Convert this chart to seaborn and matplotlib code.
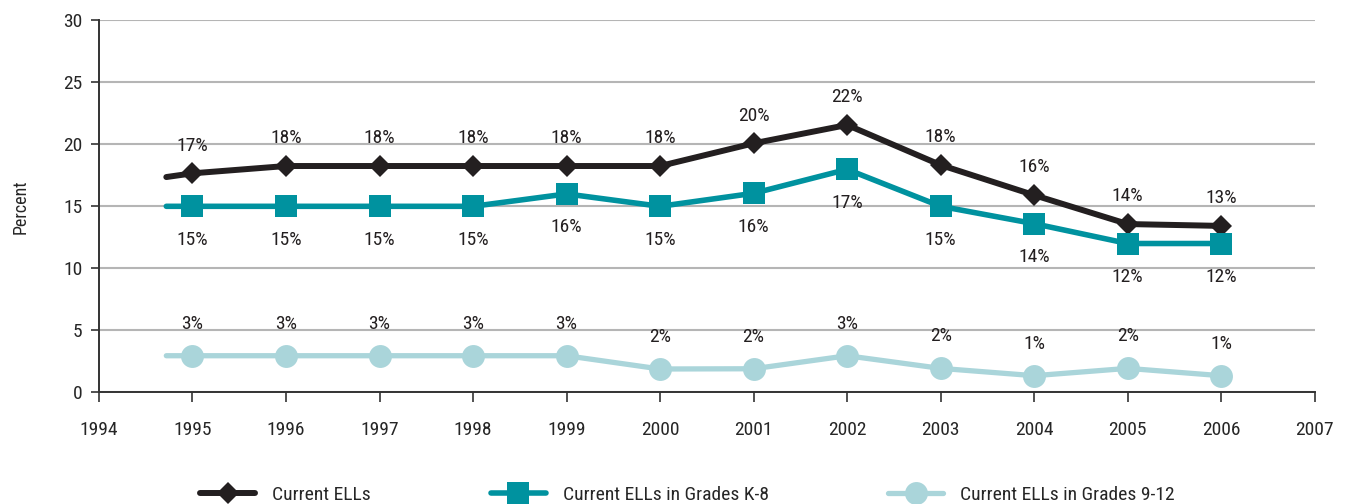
import matplotlib
matplotlib.use("Agg")
import matplotlib.pyplot as plt
import seaborn as sns
import pandas as pd

# ---- data ----
lead_year = 1994.72          # lines start slightly before the first marker
years = [1995, 1996, 1997, 1998, 1999, 2000, 2001, 2002, 2003, 2004, 2005, 2006]
ells_lead = 17.36
ells = [17.66, 18.25, 18.25, 18.25, 18.25, 18.25, 20.08, 21.56, 18.33, 15.9, 13.57, 13.42]
ells_lbl = [17, 18, 18, 18, 18, 18, 20, 22, 18, 16, 14, 13]
k8_lead = 15.0
k8 = [15.0, 15.0, 15.0, 15.0, 16.0, 15.0, 16.05, 17.98, 15.0, 13.6, 12.0, 12.0]
k8_lbl = [15, 15, 15, 15, 16, 15, 16, 17, 15, 14, 12, 12]
g912_lead = 2.95
g912 = [2.95, 2.95, 2.95, 2.95, 2.95, 1.88, 1.9, 2.95, 1.93, 1.34, 1.93, 1.34]
g912_lbl = [3, 3, 3, 3, 3, 2, 2, 3, 2, 1, 2, 1]
series_names = ["Current ELLs", "Current ELLs in Grades K-8", "Current ELLs in Grades 9-12"]
x_ticks = list(range(1994, 2008))
y_ticks = [0, 5, 10, 15, 20, 25, 30]

sns.set_style("white")
plt.rcParams["font.family"] = ["Liberation Sans Narrow", "DejaVu Sans Condensed",
                               "Roboto Condensed", "Liberation Sans", "DejaVu Sans"]

fig = plt.figure(figsize=(13.54, 5.04), dpi=100)
ax = fig.add_axes([0.0731, 0.2216, 0.971 - 0.0731, 0.9597 - 0.2216])

colors = ["#231f20", "#00929f", "#aad5da"]
markers = ["D", "s", "o"]
msizes = [11, 15.5, 16.5]
lws = [4.3, 4.0, 3.8]
offsets = [20, -24, 23]  # label offsets in points

all_series = [(ells_lead, ells, ells_lbl), (k8_lead, k8, k8_lbl), (g912_lead, g912, g912_lbl)]
for i, (lead, vals, lbls) in enumerate(all_series):
    df = pd.DataFrame({"year": [lead_year] + years, "value": [lead] + vals})
    sns.lineplot(data=df, x="year", y="value", ax=ax, color=colors[i], lw=lws[i],
                 marker=markers[i], markersize=msizes[i], markevery=list(range(1, len(df))),
                 markeredgecolor=colors[i], markeredgewidth=0, label=series_names[i],
                 solid_capstyle="round", zorder=3)
    for x, v, l in zip(years, vals, lbls):
        ax.annotate(f"{l}%", (x, v), xytext=(0, offsets[i]), textcoords="offset points",
                    ha="center", va="center", fontsize=14, color="#231f20")

ax.set_xlim(1994, 2007)
ax.set_ylim(0, 30)
ax.set_xticks(x_ticks)
ax.set_xticklabels([str(t) for t in x_ticks])
ax.set_yticks(y_ticks)
ax.set_xlabel("")
ax.set_ylabel("Percent", fontsize=13, labelpad=24)
ax.yaxis.grid(True, color="#b5b5b5", lw=1.5)
ax.set_axisbelow(True)
for s in ["top", "right"]:
    ax.spines[s].set_visible(False)
for s in ["left", "bottom"]:
    ax.spines[s].set_color("#333333")
    ax.spines[s].set_linewidth(1.4)
ax.tick_params(axis="x", direction="out", length=7, width=1.2, color="#333333",
               labelsize=14, pad=14, bottom=True)
ax.tick_params(axis="y", direction="out", length=6, width=1.2, color="#333333",
               labelsize=14, pad=6, left=True)

leg = ax.legend(loc="center left", bbox_to_anchor=(0.142, 0.018),
                bbox_transform=fig.transFigure, ncol=3, frameon=False,
                fontsize=14, handlelength=2.83, handletextpad=0.88,
                columnspacing=6.15, borderaxespad=0, numpoints=1)

fig.savefig("out.png", dpi=100)
